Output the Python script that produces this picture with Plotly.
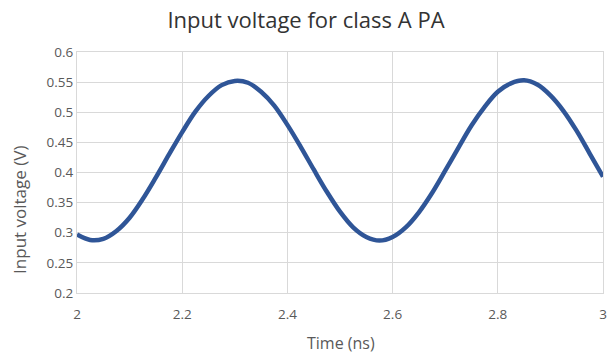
import plotly.graph_objects as go

time_ns = [2.000, 2.025, 2.050, 2.075, 2.100, 2.125, 2.150, 2.175, 2.200, 2.225,
           2.250, 2.275, 2.300, 2.325, 2.350, 2.375, 2.400, 2.425, 2.450, 2.475,
           2.500, 2.525, 2.550, 2.575, 2.600, 2.625, 2.650, 2.675, 2.700, 2.725,
           2.750, 2.775, 2.800, 2.825, 2.850, 2.875, 2.900, 2.925, 2.950, 2.975,
           3.000]
voltage = [0.297, 0.288, 0.290, 0.303, 0.325, 0.356, 0.392, 0.430, 0.467, 0.501,
           0.527, 0.545, 0.552, 0.549, 0.534, 0.511, 0.479, 0.443, 0.405, 0.368,
           0.335, 0.309, 0.293, 0.287, 0.293, 0.309, 0.334, 0.366, 0.403, 0.441,
           0.478, 0.509, 0.534, 0.548, 0.553, 0.546, 0.528, 0.502, 0.469, 0.431,
           0.393]

x_ticks = [2, 2.2, 2.4, 2.6, 2.8, 3]
x_tick_labels = ["2", "2.2", "2.4", "2.6", "2.8", "3"]
y_ticks = [0.2, 0.25, 0.3, 0.35, 0.4, 0.45, 0.5, 0.55, 0.6]
y_tick_labels = ["0.2", "0.25", "0.3", "0.35", "0.4", "0.45", "0.5", "0.55", "0.6"]

font_family = "Open Sans, Noto Sans, sans-serif"
grid = "#d9d9d9"

fig = go.Figure()
fig.add_trace(go.Scatter(
    x=time_ns, y=voltage, mode="lines",
    line=dict(color="#2F5597", width=4.5, shape="spline"),
    showlegend=False, hoverinfo="skip",
))

fig.update_layout(
    width=612, height=356,
    margin=dict(l=77, r=5, t=52, b=63),
    paper_bgcolor="white", plot_bgcolor="white",
    title=dict(text="Input voltage for class A PA", x=0.5, xanchor="center",
               y=0.944, yanchor="middle",
               font=dict(family=font_family, size=22, color="#333333")),
    font=dict(family=font_family, color="#595959"),
    annotations=[
        dict(text="Time (ns)", xref="paper", yref="paper", x=0.502, y=-0.2075,
             xanchor="center", yanchor="middle", showarrow=False,
             font=dict(family=font_family, size=16, color="#595959")),
        dict(text="Input voltage (V)", xref="paper", yref="paper", x=-0.1094, y=0.3465,
             xanchor="center", yanchor="middle", showarrow=False, textangle=-90,
             font=dict(family=font_family, size=17, color="#595959")),
    ],
)
fig.update_xaxes(
    range=[2, 3], tickvals=x_ticks, ticktext=x_tick_labels,
    showgrid=True, gridcolor=grid, gridwidth=1,
    showline=True, linecolor=grid, linewidth=1, mirror=True,
    zeroline=False, ticks="outside", ticklen=9, tickcolor="rgba(0,0,0,0)",
    tickfont=dict(size=13.5, color="#595959"),
)
fig.update_yaxes(
    range=[0.2, 0.6], tickvals=y_ticks, ticktext=y_tick_labels,
    showgrid=True, gridcolor=grid, gridwidth=1,
    showline=True, linecolor=grid, linewidth=1, mirror=True,
    zeroline=False, ticks="", tickfont=dict(size=13.5, color="#595959"),
)

fig.write_html("out.html")
